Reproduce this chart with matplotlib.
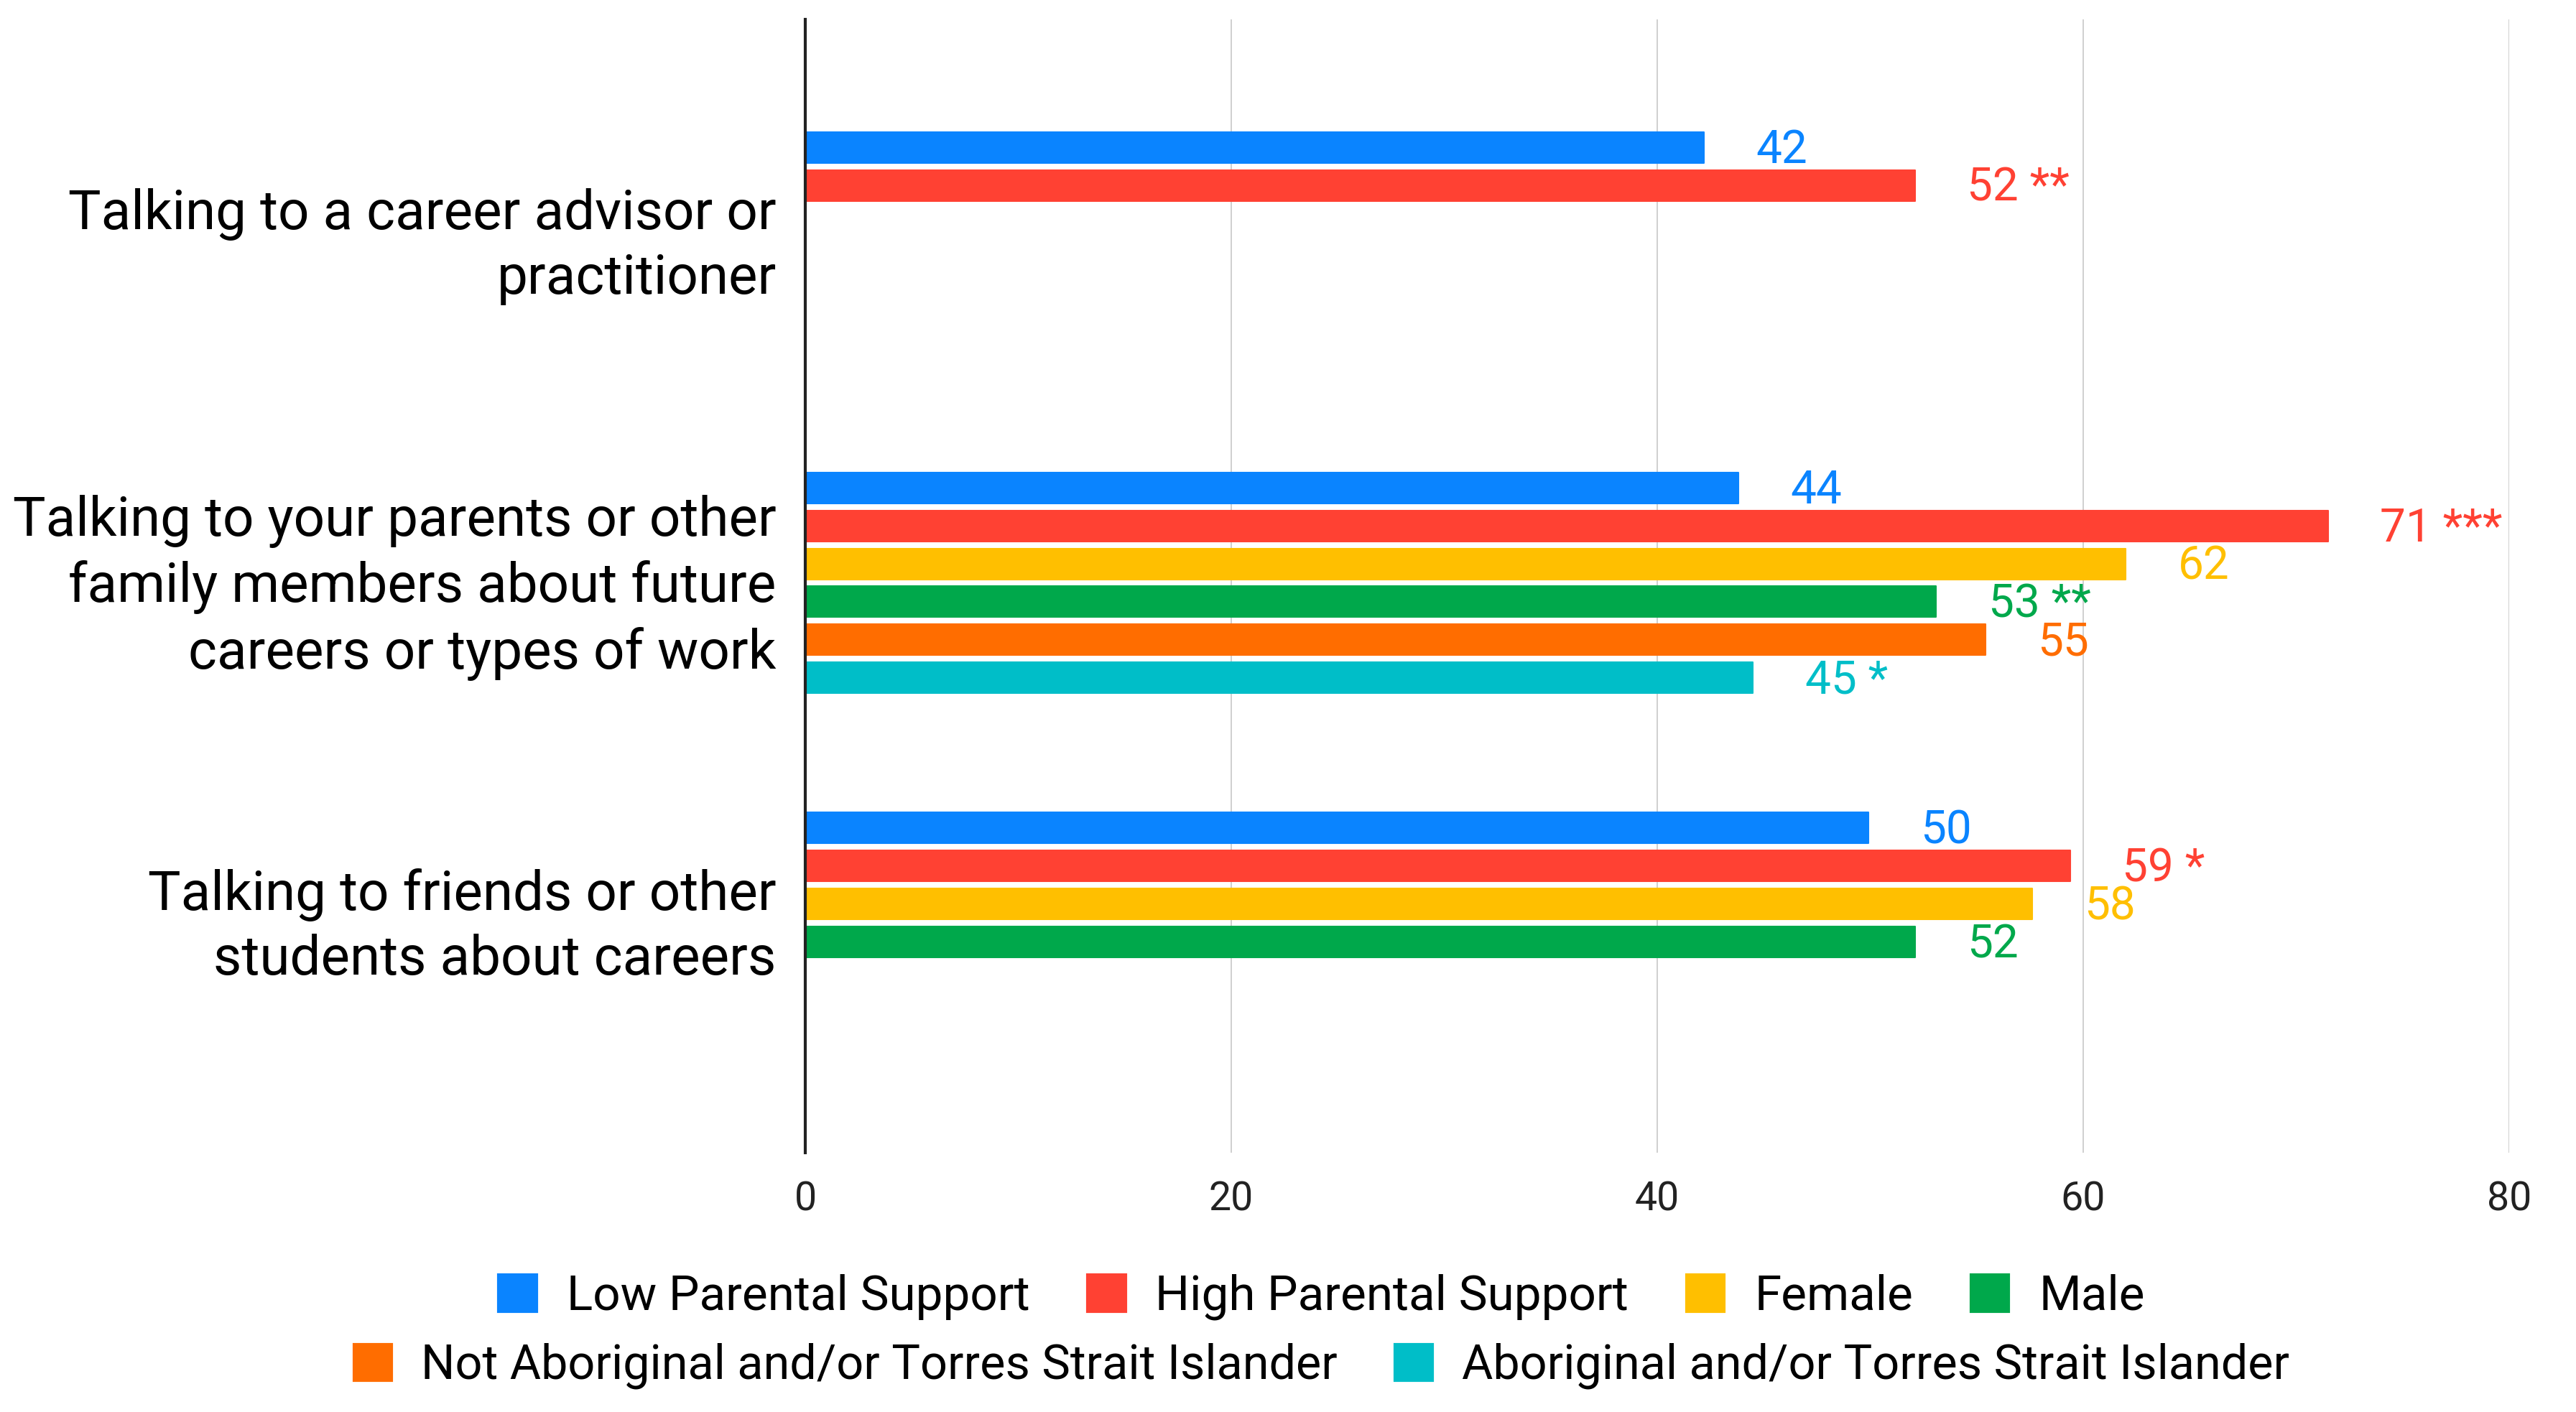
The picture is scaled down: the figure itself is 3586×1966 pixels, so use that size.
import numpy as np
import matplotlib
matplotlib.use("Agg")
import matplotlib.pyplot as plt
import matplotlib.transforms as mtransforms
from matplotlib.patches import Patch

plt.rcParams['font.family'] = ['Roboto', 'DejaVu Sans']

categories = [
    "Talking to a career advisor or\npractitioner",
    "Talking to your parents or other\nfamily members about future\ncareers or types of work",
    "Talking to friends or other\nstudents about careers",
]
series_names = [
    "Low Parental Support",
    "High Parental Support",
    "Female",
    "Male",
    "Not Aboriginal and/or Torres Strait Islander",
    "Aboriginal and/or Torres Strait Islander",
]
nan = np.nan
low_parental = [42.2, 43.8, 49.9]
high_parental = [52.1, 71.5, 59.4]
female = [nan, 62.0, 57.6]
male = [nan, 53.1, 52.1]
not_aboriginal = [nan, 55.4, nan]
aboriginal = [nan, 44.5, nan]

low_parental_lbl = ["42", "44", "50"]
high_parental_lbl = ["52 **", "71 ***", "59 *"]
female_lbl = [None, "62", "58"]
male_lbl = [None, "53 **", "52"]
not_aboriginal_lbl = [None, "55", None]
aboriginal_lbl = [None, "45 *", None]

x_ticks = [0, 20, 40, 60, 80]

colors = ["#0A84FF", "#FF4133", "#FFBF00", "#00A84B", "#FF6D00", "#00BEC8"]

all_values = [low_parental, high_parental, female, male, not_aboriginal, aboriginal]
all_labels = [low_parental_lbl, high_parental_lbl, female_lbl, male_lbl,
              not_aboriginal_lbl, aboriginal_lbl]

W, H = 3587, 1966
fig = plt.figure(figsize=(W / 100, H / 100), dpi=100)
ax = fig.add_axes([1121 / W, 1 - 1605 / H, (3493 - 1121) / W, (1605 - 27) / H])

slot = 0.1118
bar_h = 0.0907
centers = np.arange(len(categories))
for k, (vals, lbls, c) in enumerate(zip(all_values, all_labels, colors)):
    y = centers + (k - 2.5) * slot
    v = np.array(vals, dtype=float)
    mask = ~np.isnan(v)
    ax.barh(y[mask], v[mask], height=bar_h, color=c, edgecolor=c,
            linewidth=1.5, joinstyle='round', zorder=3, label=series_names[k])
    for yi, vi, li in zip(y, v, lbls):
        if li is None or np.isnan(vi):
            continue
        ax.annotate(li, (vi, yi), xytext=(52, -2.5), textcoords='offset points',
                    ha='left', va='center', color=c, fontsize=46, zorder=4)

ax.set_xlim(0, 80)
ax.set_ylim(2.675, -0.656)
ax.set_xticks(x_ticks)
ax.set_xticklabels([str(t) for t in x_ticks], fontsize=40)
ax.set_yticks(centers)
ax.set_yticklabels(categories, fontsize=55, linespacing=1.3)
ax.tick_params(axis='y', length=0, pad=29)
ax.tick_params(axis='x', length=0, pad=28, colors='#222222')
shift = mtransforms.ScaledTranslation(0, 7.5 / 72, fig.dpi_scale_trans)
for lab in ax.get_yticklabels():
    lab.set_transform(lab.get_transform() + shift)
ax.grid(axis='x', color='#CCCCCC', linewidth=1.3, zorder=0)
for s in ['top', 'right', 'bottom']:
    ax.spines[s].set_visible(False)
ax.spines['left'].set_color('#222222')
ax.spines['left'].set_linewidth(3)
ax.spines['left'].set_zorder(5)

handles = [Patch(facecolor=c, edgecolor=c, linewidth=3, joinstyle='round') for c in colors]
leg_kw = dict(frameon=False, handlelength=0.78, handleheight=0.78,
              handletextpad=0.62, columnspacing=1.2, borderaxespad=0, borderpad=0)
leg1 = fig.legend(handles[:4], series_names[:4], ncol=4, loc='center', fontsize=48.5,
                  bbox_to_anchor=(1840 / W, 1 - 1806 / H), **leg_kw)
leg2 = fig.legend(handles[4:], series_names[4:], ncol=2, loc='center', fontsize=47.9,
                  bbox_to_anchor=(1840 / W, 1 - 1902 / H), **leg_kw)

fig.savefig("out.png", dpi=100, facecolor='white')
